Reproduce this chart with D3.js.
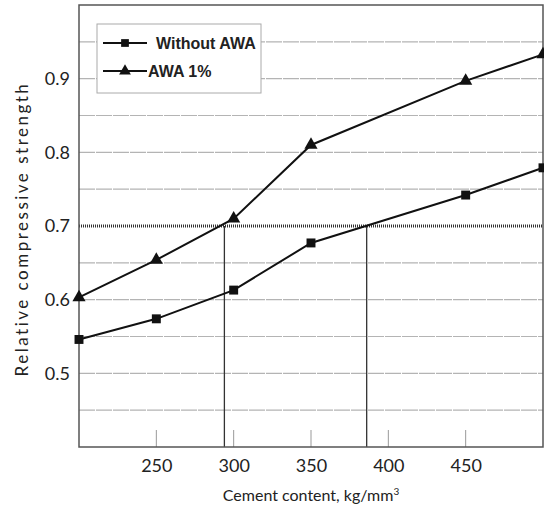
<!DOCTYPE html>
<html>
<head>
<meta charset="utf-8">
<script src="https://cdn.jsdelivr.net/npm/d3@7"></script>
<style>
  body { margin: 0; background: #fff; }
  text { font-family: Lato, "DejaVu Sans", sans-serif; fill: #222; }
</style>
</head>
<body>
<div id="chart"></div>
<script>
// chart values
var cement = [200, 250, 300, 350, 450, 500];
var withoutAWA = [0.546, 0.574, 0.613, 0.677, 0.742, 0.779];
var awa1 = [0.603, 0.654, 0.710, 0.810, 0.897, 0.933];
var xTicks = [250, 300, 350, 400, 450];
var yTicks = [0.5, 0.6, 0.7, 0.8, 0.9];
var yGrid = [0.45, 0.5, 0.55, 0.6, 0.65, 0.75, 0.8, 0.85, 0.9, 0.95];
var refLevel = 0.7;
var crossings = [294, 386];
var seriesNames = ["Without AWA", "AWA 1%"];

var width = 544, height = 512;
var margin = {top: 5, right: 1, bottom: 65, left: 79};

var svg = d3.select("#chart").append("svg")
    .attr("width", width)
    .attr("height", height);

var x = d3.scaleLinear().domain([200, 500]).range([margin.left, width - margin.right]);
var y = d3.scaleLinear().domain([0.4, 1.0]).range([height - margin.bottom, margin.top]);

// dashed grid
svg.selectAll("line.grid")
    .data(yGrid)
  .enter().append("line")
    .attr("class", "grid")
    .attr("x1", x(200)).attr("x2", x(500))
    .attr("y1", function(d){ return y(d); })
    .attr("y2", function(d){ return y(d); })
    .attr("stroke", "#b4b4b4")
    .attr("stroke-width", 1.2)
    .attr("stroke-dasharray", "16,1");

// dotted reference line at 0.7
svg.append("line")
    .attr("x1", x(200)).attr("x2", x(500))
    .attr("y1", y(refLevel)).attr("y2", y(refLevel))
    .attr("stroke", "#333")
    .attr("stroke-width", 3)
    .attr("stroke-dasharray", "1,1");

// inner tick marks
svg.selectAll("line.xtick")
    .data(xTicks)
  .enter().append("line")
    .attr("class", "xtick")
    .attr("x1", function(d){ return x(d); })
    .attr("x2", function(d){ return x(d); })
    .attr("y1", y(0.4)).attr("y2", y(0.4) - 17)
    .attr("stroke", "#999");

// vertical drop lines
svg.selectAll("line.drop")
    .data(crossings)
  .enter().append("line")
    .attr("class", "drop")
    .attr("x1", function(d){ return x(d); })
    .attr("x2", function(d){ return x(d); })
    .attr("y1", y(refLevel)).attr("y2", y(0.4))
    .attr("stroke", "#333")
    .attr("stroke-width", 1.3);

// frame
svg.append("rect")
    .attr("x", x(200)).attr("y", y(1.0))
    .attr("width", x(500) - x(200))
    .attr("height", y(0.4) - y(1.0))
    .attr("fill", "none")
    .attr("stroke", "#555")
    .attr("stroke-width", 1.5);

// axes (labels only)
var xAxis = svg.append("g")
    .attr("transform", "translate(0," + y(0.4) + ")")
    .call(d3.axisBottom(x).tickValues(xTicks).tickSize(0).tickPadding(12));
xAxis.select(".domain").remove();
xAxis.selectAll("text").style("font-size", "18px").style("font-family", "Lato, sans-serif").attr("fill", "#222");

var yAxis = svg.append("g")
    .attr("transform", "translate(" + x(200) + ",0)")
    .call(d3.axisLeft(y).tickValues(yTicks).tickFormat(d3.format(".1f")).tickSize(0).tickPadding(9));
yAxis.select(".domain").remove();
yAxis.selectAll("text").style("font-size", "18px").style("font-family", "Lato, sans-serif").attr("fill", "#222");

// series
var line = d3.line()
    .x(function(d){ return x(d[0]); })
    .y(function(d){ return y(d[1]); });

var sq = d3.symbol().type(d3.symbolSquare).size(80);
var tri = d3.symbol().type(d3.symbolTriangle).size(75);

var series = [
  {name: seriesNames[0], vals: withoutAWA, sym: sq},
  {name: seriesNames[1], vals: awa1, sym: tri}
];

series.forEach(function(s){
  var pts = cement.map(function(c, i){ return [c, s.vals[i]]; });
  svg.append("path")
      .datum(pts)
      .attr("d", line)
      .attr("fill", "none")
      .attr("stroke", "#111")
      .attr("stroke-width", 2);
  svg.selectAll(null)
      .data(pts)
    .enter().append("path")
      .attr("d", s.sym)
      .attr("transform", function(d){ return "translate(" + x(d[0]) + "," + y(d[1]) + ")"; })
      .attr("fill", "#111");
});

// legend
var lg = svg.append("g").attr("transform", "translate(97,24)");
lg.append("rect")
    .attr("width", 164).attr("height", 69)
    .attr("fill", "#fff")
    .attr("stroke", "#aaa")
    .attr("stroke-width", 1);
series.forEach(function(s, i){
  var yy = 19 + i * 28;
  lg.append("line")
      .attr("x1", 6).attr("x2", 50)
      .attr("y1", yy).attr("y2", yy)
      .attr("stroke", "#111").attr("stroke-width", 2);
  lg.append("path")
      .attr("d", d3.symbol().type(i === 0 ? d3.symbolSquare : d3.symbolTriangle).size(60))
      .attr("transform", "translate(28," + yy + ")")
      .attr("fill", "#111");
  lg.append("text")
      .attr("x", i === 0 ? 59 : 51)
      .attr("y", yy + 6)
      .style("font-family", "'Liberation Sans Narrow', 'Liberation Sans', Arial, sans-serif")
      .style("font-size", "16px")
      .style("font-weight", "bold")
      .style("font-stretch", "condensed")
      .text(s.name);
});

// axis titles
svg.append("text")
    .attr("x", 311)
    .attr("y", 501)
    .attr("text-anchor", "middle")
    .style("font-size", "16px")
    .text("Cement content, kg/mm")
  .append("tspan")
    .attr("dy", -6)
    .style("font-size", "10px")
    .text("3");

svg.append("text")
    .attr("transform", "translate(28,229) rotate(-90)")
    .attr("text-anchor", "middle")
    .style("font-size", "17px")
    .style("letter-spacing", "2.5px")
    .text("Relative compressive strength");
</script>
</body>
</html>
